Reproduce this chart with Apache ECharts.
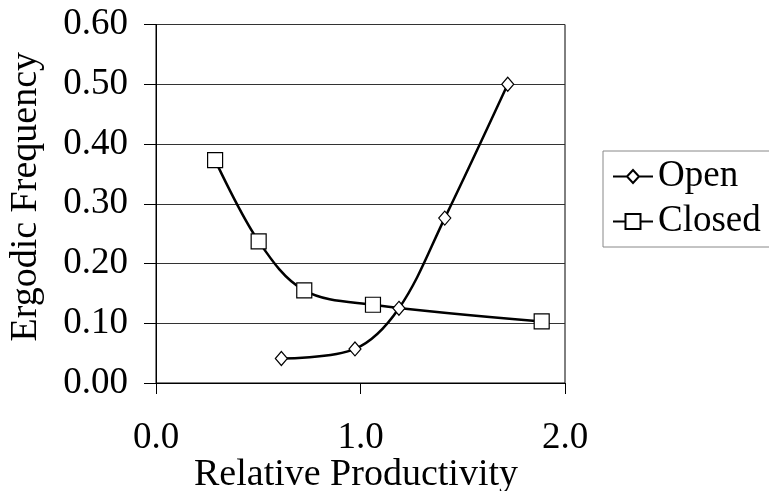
<!DOCTYPE html>
<html><head><meta charset="utf-8">
<script src="https://cdn.jsdelivr.net/npm/echarts@6/dist/echarts.min.js"></script>
<style>html,body{margin:0;padding:0;background:#fff}#c{width:769px;height:491px}</style>
</head><body><div id="c"></div>
<script>
var openX = [0.613, 0.973, 1.188, 1.412, 1.720];
var openY = [0.041, 0.057, 0.125, 0.276, 0.500];
var closedX = [0.289, 0.502, 0.725, 1.061, 1.886];
var closedY = [0.373, 0.237, 0.155, 0.131, 0.103];
var seriesNames = ['Open', 'Closed'];
var xTitle = 'Relative Productivity';
var yTitle = 'Ergodic Frequency';

function pairs(xs, ys){ return xs.map(function(x,i){ return [x, ys[i]]; }); }
var F = '"Liberation Serif","Times New Roman",serif';
var FS = 37;
var diamondIcon = 'path://M0,7.5L14,7.5M14,7.5L20,1L26,7.5L20,14ZM26,7.5L40,7.5';
var squareIcon = 'path://M0,7.5L12.5,7.5M12.5,0L27.5,0L27.5,15L12.5,15ZM27.5,7.5L40,7.5';
var chart = echarts.init(document.getElementById('c'), null, {renderer:'canvas'});
chart.setOption({
  animation: false,
  backgroundColor: '#fff',
  grid: {left:156, right:204, top:24.5, bottom:108, show:true, borderColor:'#000', borderWidth:1,
         containLabel:false, outerBoundsMode:'none'},
  legend: {
    left: 603, top: 151, orient: 'vertical',
    padding: [7, 60, 7, 9], itemGap: 8, itemWidth: 40, itemHeight: 15, itemTextGap: 10,
    borderColor: '#888', borderWidth: 1, symbolKeepAspect: true,
    itemStyle: {color:'#fff', borderColor:'#000', borderWidth:2},
    textStyle: {fontFamily: F, fontSize: FS, color: '#000', lineHeight: 36},
    data: [{name: seriesNames[0], icon: diamondIcon}, {name: seriesNames[1], icon: squareIcon}]
  },
  xAxis: {
    type:'value', min:0, max:2, interval:1,
    name: xTitle, nameLocation:'middle', nameGap: 73, nameMoveOverlap:false,
    nameTextStyle: {fontFamily:F, fontSize:38, color:'#000', padding:[0,9,0,0]},
    axisLine: {show:true, lineStyle:{color:'#000', width:1}},
    axisTick: {show:true, length:11, lineStyle:{color:'#000'}},
    axisLabel: {fontFamily:F, fontSize:FS, color:'#000', margin:37, formatter:function(v){return v.toFixed(1);}},
    splitLine: {show:false}
  },
  yAxis: {
    type:'value', min:0, max:0.6, interval:0.1,
    name: yTitle, nameLocation:'middle', nameGap: 111, nameRotate: 90, nameMoveOverlap:false,
    nameTextStyle: {fontFamily:F, fontSize:38, color:'#000', padding:[0,0,0,14]},
    axisLine: {show:true, lineStyle:{color:'#000', width:1}},
    axisTick: {show:true, length:12, lineStyle:{color:'#000'}},
    axisLabel: {fontFamily:F, fontSize:FS, color:'#000', margin:28, formatter:function(v){return v.toFixed(2);}},
    splitLine: {show:true, lineStyle:{color:'#333', width:1}}
  },
  series: [
    {name: seriesNames[0], type:'line', data: pairs(openX, openY), smooth:0.35,
     symbol:'diamond', symbolSize:[12,14], showAllSymbol:true,
     lineStyle:{color:'#000', width:2.5}, itemStyle:{color:'#fff', borderColor:'#000', borderWidth:1.2}, z:3},
    {name: seriesNames[1], type:'line', data: pairs(closedX, closedY), smooth:0.35,
     symbol:'rect', symbolSize:15, showAllSymbol:true,
     lineStyle:{color:'#000', width:2.5}, itemStyle:{color:'#fff', borderColor:'#000', borderWidth:1.2}, z:2}
  ]
});
</script></body></html>
